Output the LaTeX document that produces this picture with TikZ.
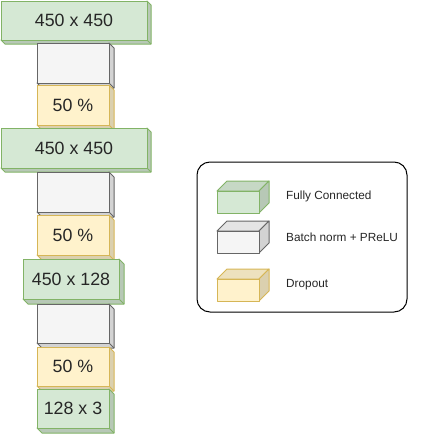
\documentclass[tikz,border=0pt]{standalone}
\usepackage{fontspec}
\setmainfont{Liberation Sans}
\definecolor{gfill}{HTML}{D5E8D4}\definecolor{gline}{HTML}{82B366}
\definecolor{wfill}{HTML}{F5F5F5}\definecolor{wline}{HTML}{666666}
\definecolor{yfill}{HTML}{FFF2CC}\definecolor{yline}{HTML}{D6B656}
\tikzset{
  gface/.style={draw=gline,fill=gfill},
  gside/.style={draw=gline,fill=gfill!86!black},
  gtop/.style={draw=gline,fill=gfill!93!black},
  wface/.style={draw=wline,fill=wfill},
  wside/.style={draw=wline,fill=wfill!86!black},
  wtop/.style={draw=wline,fill=wfill!93!black},
  yface/.style={draw=yline,fill=yfill},
  yside/.style={draw=yline,fill=yfill!86!black},
  ytop/.style={draw=yline,fill=yfill!93!black},
  box/.style={inner sep=0pt,outer sep=0pt,line width=1pt,line join=round,
    font=\fontsize{17.8}{20}\selectfont,text=black!85},
  legtext/.style={inner sep=0pt,font=\fontsize{11.8}{14}\selectfont,text=black!85},
  legframe/.style={draw=black,line width=1pt,rounded corners=13pt,inner sep=0pt}
}
% stack cube: name, x1, y1, x2, y2, depth, colour prefix, text
\newcommand\stkcube[8]{%
  \draw[#7side,line width=1pt,line join=round]
    (#4,#3) -- ({#4+#6},{#3+#6}) -- ({#4+#6},{#5+#6}) -- ({#2+#6},{#5+#6})
    -- (#2,#5) -- (#4,#5) -- cycle;
  \draw[#7side,line width=1pt] (#4,#5) -- ({#4+#6},{#5+#6});
  \node[box,#7face,minimum width={(#4-#2)*1pt},minimum height={(#5-#3)*1pt}]
    (#1) at ({(#2+#4)/2},{(#3+#5)/2}) {#8};
}
% legend cube: name, x1, y1, x2, y2, depth, colour prefix
\newcommand\legcube[7]{%
  \draw[#7top,line width=1pt,line join=round]
    (#2,#3) -- ({#2+#6},{#3-#6}) -- ({#4+#6},{#3-#6}) -- (#4,#3) -- cycle;
  \draw[#7side,line width=1pt,line join=round]
    (#4,#3) -- ({#4+#6},{#3-#6}) -- ({#4+#6},{#5-#6}) -- (#4,#5) -- cycle;
  \node[box,#7face,minimum width={(#4-#2)*1pt},minimum height={(#5-#3)*1pt}]
    (#1) at ({(#2+#4)/2},{(#3+#5)/2}) {};
}
\begin{document}
\begin{tikzpicture}[x=1pt,y=-1pt]
\useasboundingbox (0,0) rectangle (428,434);
\stkcube{fc1}{1}{1}{147}{40}{4}{g}{450 x 450}
\stkcube{bn1}{37}{43}{109}{83}{5}{w}{}
\stkcube{do1}{37}{85}{109}{125}{5}{y}{50 \%}
\stkcube{fc2}{1}{128}{147}{168}{4}{g}{450 x 450}
\stkcube{bn2}{37}{172}{109}{212}{5}{w}{}
\stkcube{do2}{37}{215}{109}{255}{5}{y}{50 \%}
\stkcube{fc3}{23}{259}{119}{299}{5}{g}{450 x 128}
\stkcube{bn3}{37}{304}{109}{343}{5}{w}{}
\stkcube{do3}{37}{347}{109}{386}{5}{y}{50 \%}
\stkcube{fc4}{37}{389}{109}{428}{5}{g}{128 x 3}
% legend
\node[legframe,minimum width=210pt,minimum height=150pt] (legend) at (302,237) {};
\legcube{lg1}{217}{191}{259}{213}{10}{g}
\legcube{lg2}{217}{231}{259}{253}{10}{w}
\legcube{lg3}{217}{279}{259}{301}{10}{y}
\node[legtext,anchor=west] (t1) at (286,196) {Fully Connected};
\node[legtext,anchor=west] (t2) at (286,237) {Batch norm + PReLU};
\node[legtext,anchor=west] (t3) at (286,285) {Dropout};
\end{tikzpicture}
\end{document}
